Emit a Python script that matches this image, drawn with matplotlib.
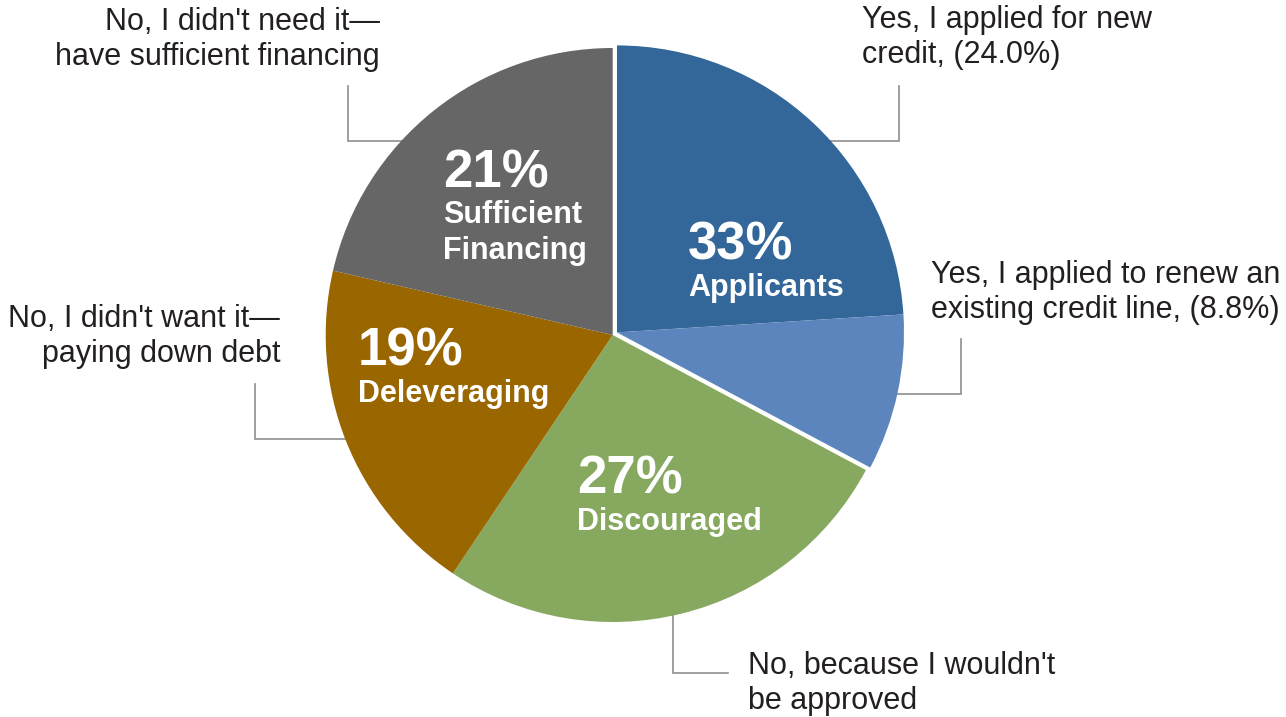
import numpy as np
import matplotlib.pyplot as plt

plt.rcParams['font.family'] = ['Liberation Sans', 'DejaVu Sans']

# survey shares (%), clockwise from 12 o'clock
answers = ["Yes, I applied for new\ncredit, (24.0%)",
           "Yes, I applied to renew an\nexisting credit line, (8.8%)",
           "No, because I wouldn't\nbe approved",
           "No, I didn't want it\u2014\npaying down debt",
           "No, I didn't need it\u2014\nhave sufficient financing"]
shares = [24.0, 8.8, 26.6, 19.2, 21.4]
colors = ["#336699", "#5b85bc", "#87a95f", "#996600", "#666666"]

# groups shown inside the pie
groups = ["Applicants", "Discouraged", "Deleveraging", "Sufficient\nFinancing"]
group_members = [[0, 1], [2], [3], [4]]

W, H = 1286, 717
cx, cy, R = 612.7, H - 335, 287
TEXT = "#231f20"
LINE = "#8f8f8f"

fig = plt.figure(figsize=(W / 100, H / 100), dpi=100)
ax = fig.add_axes([0, 0, 1, 1])

wedges, _ = ax.pie(shares, colors=colors, startangle=90, counterclock=False,
                   center=(cx, cy), radius=R,
                   wedgeprops=dict(linewidth=0, antialiased=True))

# pull the applicant slices out together along their shared bisector
mid = np.deg2rad(90 - sum(shares[:2]) / sum(shares) * 360 / 2)
shift = 5
for w in wedges[:2]:
    w.set_center((cx + shift * np.cos(mid), cy + shift * np.sin(mid)))

ax.set_xlim(0, W)
ax.set_ylim(0, H)
ax.set_aspect('equal')
ax.axis('off')

# leader lines (pixel coords from the top-left), tucked under the pie
leaders = [
    [(899, 86), (899, 140.5), (800, 140.5)],
    [(960.5, 339), (960.5, 394), (870, 394)],
    [(728, 672.5), (673, 672.5), (673, 600)],
    [(254.5, 384), (254.5, 438.5), (370, 438.5)],
    [(347.5, 86), (347.5, 140.5), (420, 140.5)],
]
for pts in leaders:
    xs = [p[0] for p in pts]
    ys = [H - p[1] for p in pts]
    ax.plot(xs, ys, color=LINE, lw=1.2, zorder=0.5, solid_joinstyle='miter')

# outer answer labels: x, first baseline, alignment
outer_pos = [(862, 28, 'left'), (931, 283, 'left'), (748, 674, 'left'),
             (280, 327, 'right'), (380, 30, 'right')]
for text, (x, yb, ha) in zip(answers, outer_pos):
    for i, line in enumerate(text.split('\n')):
        ax.text(x, H - (yb + i * 35), line, ha=ha, va='baseline',
                fontsize=22, color=TEXT)

# inner group labels: percentage plus group name
inner_pos = [(688, 260), (577, 494), (358, 366), (443, 187)]
for name, members, (x, yb) in zip(groups, group_members, inner_pos):
    pct = sum(shares[i] for i in members)
    ax.text(x, H - yb, f"{pct:.0f}%", ha='left', va='baseline',
            fontsize=38, fontweight='bold', color='white')
    for i, line in enumerate(name.split('\n')):
        ax.text(x, H - (yb + 36 + i * 36), line, ha='left', va='baseline',
                fontsize=22, fontweight='bold', color='white')

fig.savefig("out.png", dpi=100)
